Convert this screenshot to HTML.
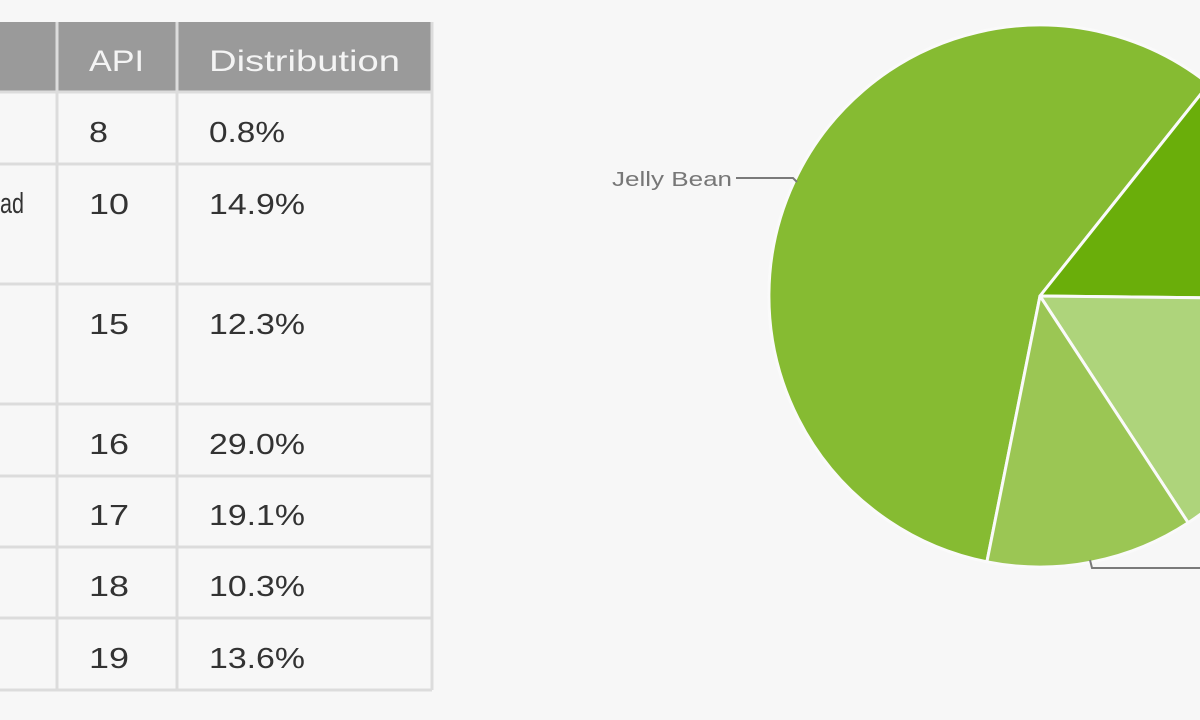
<!DOCTYPE html>
<html><head><meta charset="utf-8"><style>
html,body{margin:0;padding:0;background:#f7f7f7;width:1200px;height:720px;overflow:hidden;font-family:"Liberation Sans",sans-serif;}
</style></head><body>
<svg width="1200" height="720" xmlns="http://www.w3.org/2000/svg" style="position:absolute;left:0;top:0">
<rect width="1200" height="720" fill="#f7f7f7"/>
<rect x="0" y="22" width="432" height="70" fill="#9a9a9a"/>
<g stroke="#dcdcdc" stroke-width="3" fill="none">
<line x1="57" y1="22" x2="57" y2="690"/>
<line x1="177" y1="22" x2="177" y2="690"/>
<line x1="432" y1="22" x2="432" y2="690"/>
<line x1="0" y1="92" x2="432" y2="92"/>
<line x1="0" y1="164" x2="432" y2="164"/>
<line x1="0" y1="284" x2="432" y2="284"/>
<line x1="0" y1="404" x2="432" y2="404"/>
<line x1="0" y1="476" x2="432" y2="476"/>
<line x1="0" y1="547" x2="432" y2="547"/>
<line x1="0" y1="618" x2="432" y2="618"/>
<line x1="0" y1="690" x2="432" y2="690"/>
</g>
<g font-size="30" fill="#f4f4f4" lengthAdjust="spacingAndGlyphs">
<text x="89" y="71" textLength="55" lengthAdjust="spacingAndGlyphs">API</text>
<text x="209" y="71" textLength="191" lengthAdjust="spacingAndGlyphs">Distribution</text>
</g>
<g font-size="29" fill="#333">
<text x="0" y="213" textLength="24" lengthAdjust="spacingAndGlyphs">ad</text>
<text x="89" y="142" textLength="19" lengthAdjust="spacingAndGlyphs">8</text><text x="209" y="142" textLength="76" lengthAdjust="spacingAndGlyphs">0.8%</text>
<text x="89" y="214" textLength="40" lengthAdjust="spacingAndGlyphs">10</text><text x="209" y="214" textLength="96" lengthAdjust="spacingAndGlyphs">14.9%</text>
<text x="89" y="334" textLength="40" lengthAdjust="spacingAndGlyphs">15</text><text x="209" y="334" textLength="96" lengthAdjust="spacingAndGlyphs">12.3%</text>
<text x="89" y="454" textLength="40" lengthAdjust="spacingAndGlyphs">16</text><text x="209" y="454" textLength="96" lengthAdjust="spacingAndGlyphs">29.0%</text>
<text x="89" y="525" textLength="40" lengthAdjust="spacingAndGlyphs">17</text><text x="209" y="525" textLength="96" lengthAdjust="spacingAndGlyphs">19.1%</text>
<text x="89" y="596" textLength="40" lengthAdjust="spacingAndGlyphs">18</text><text x="209" y="596" textLength="96" lengthAdjust="spacingAndGlyphs">10.3%</text>
<text x="89" y="668" textLength="40" lengthAdjust="spacingAndGlyphs">19</text><text x="209" y="668" textLength="96" lengthAdjust="spacingAndGlyphs">13.6%</text>
</g>
<g stroke="#fafafa" stroke-width="3" stroke-linejoin="round">
<path d="M1040 296 L1208.8 84.1 A271 271 0 1 0 986.9 561.8 Z" fill="#86bb32"/>
<path d="M1040 296 L1311 299 A271 271 0 0 0 1208.8 84.1 Z" fill="#6aae0a"/>
<path d="M1040 296 L1311 299 A271 271 0 0 1 1188.2 522.8 Z" fill="#aed47b"/>
<path d="M1040 296 L1188.2 522.8 A271 271 0 0 1 986.9 561.8 Z" fill="#9bc654"/>
</g>
<g stroke="#7a7a7a" stroke-width="2" fill="none">
<path d="M736 178 L793 178 L797 182"/>
<path d="M1090 560 L1092 568 L1200 568"/>
</g>
<text x="612" y="186" font-size="20" fill="#777" textLength="120" lengthAdjust="spacingAndGlyphs">Jelly Bean</text>
</svg>
</body></html>
